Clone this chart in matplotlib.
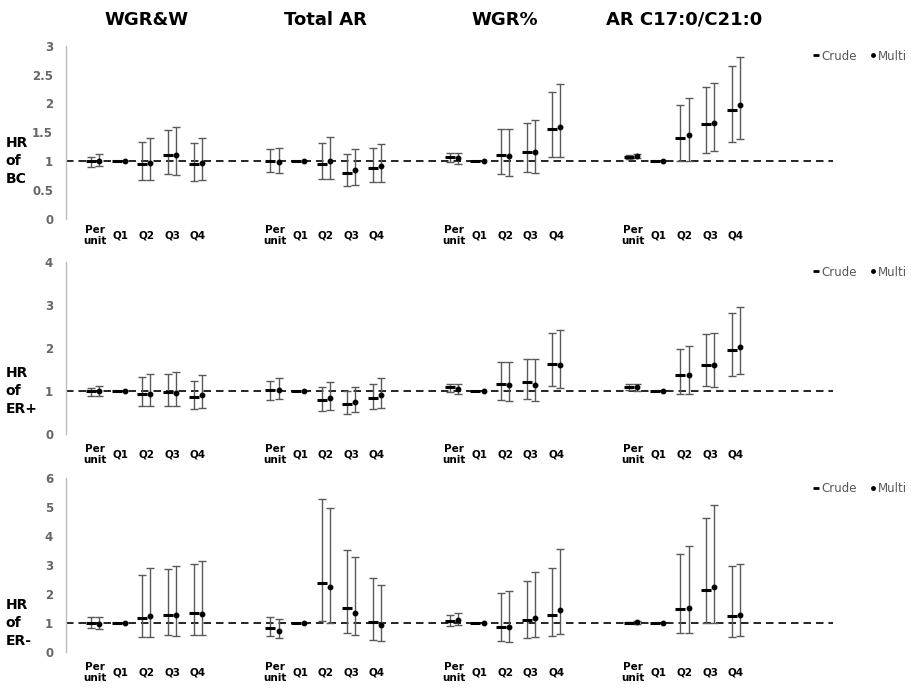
import numpy as np
import matplotlib
matplotlib.use('Agg')
import matplotlib.pyplot as plt
from matplotlib.lines import Line2D
from matplotlib.ticker import MultipleLocator, FormatStrFormatter

nan = np.nan

groups = ['WGR&W', 'Total AR', 'WGR%', 'AR C17:0/C21:0']
categories = ['Per\nunit', 'Q1', 'Q2', 'Q3', 'Q4']
outcomes = ['HR\nof\nBC', 'HR\nof\nER+', 'HR\nof\nER-']

# HR and 95% CI, 4 groups x 5 categories each (Q1 is the reference)
bc_crude = [1.00, 1.00, 0.96, 1.10, 0.96, 1.01, 1.00, 0.96, 0.80, 0.89,
            1.08, 1.00, 1.11, 1.16, 1.56, 1.08, 1.00, 1.41, 1.64, 1.89]
bc_crude_lo = [0.90, nan, 0.675, 0.78, 0.66, 0.81, nan, 0.69, 0.57, 0.64,
               0.99, nan, 0.77, 0.81, 1.08, 1.04, nan, 1.00, 1.15, 1.33]
bc_crude_hi = [1.08, nan, 1.34, 1.54, 1.32, 1.21, nan, 1.32, 1.12, 1.23,
               1.14, nan, 1.56, 1.655, 2.19, 1.11, nan, 1.98, 2.29, 2.65]
bc_multi = [1.00, 1.00, 0.97, 1.11, 0.97, 0.98, 1.00, 1.00, 0.85, 0.92,
            1.06, 1.00, 1.09, 1.16, 1.59, 1.09, 1.00, 1.45, 1.66, 1.97]
bc_multi_lo = [0.91, nan, 0.675, 0.755, 0.675, 0.79, nan, 0.70, 0.59, 0.64,
               0.96, nan, 0.75, 0.79, 1.08, 1.05, nan, 1.01, 1.17, 1.38]
bc_multi_hi = [1.12, nan, 1.40, 1.60, 1.41, 1.23, nan, 1.42, 1.22, 1.30,
               1.15, nan, 1.56, 1.71, 2.33, 1.13, nan, 2.09, 2.36, 2.80]

erp_crude = [0.99, 1.00, 0.94, 0.97, 0.87, 1.02, 1.00, 0.78, 0.69, 0.83,
             1.08, 1.00, 1.17, 1.20, 1.63, 1.09, 1.00, 1.37, 1.61, 1.96]
erp_crude_lo = [0.89, nan, 0.64, 0.66, 0.58, 0.78, nan, 0.53, 0.46, 0.58,
                0.97, nan, 0.79, 0.82, 1.11, 1.02, nan, 0.93, 1.11, 1.34]
erp_crude_hi = [1.07, nan, 1.32, 1.39, 1.24, 1.24, nan, 1.09, 0.99, 1.15,
                1.15, nan, 1.68, 1.74, 2.34, 1.15, nan, 1.98, 2.31, 2.80]
erp_multi = [0.99, 1.00, 0.93, 0.96, 0.91, 1.03, 1.00, 0.83, 0.75, 0.90,
             1.05, 1.00, 1.14, 1.14, 1.61, 1.08, 1.00, 1.37, 1.61, 2.02]
erp_multi_lo = [0.89, nan, 0.64, 0.66, 0.60, 0.81, nan, 0.56, 0.51, 0.60,
                0.94, nan, 0.76, 0.76, 1.07, 1.00, nan, 0.93, 1.09, 1.39]
erp_multi_hi = [1.12, nan, 1.39, 1.44, 1.37, 1.30, nan, 1.20, 1.10, 1.30,
                1.15, nan, 1.68, 1.74, 2.41, 1.15, nan, 2.05, 2.34, 2.94]

ern_crude = [1.02, 1.00, 1.18, 1.28, 1.36, 0.84, 1.00, 2.38, 1.53, 1.04,
             1.09, 1.00, 0.88, 1.11, 1.28, 1.01, 1.00, 1.50, 2.14, 1.26]
ern_crude_lo = [0.82, nan, 0.52, 0.60, 0.60, 0.56, nan, 1.07, 0.65, 0.41,
                0.92, nan, 0.38, 0.48, 0.55, 0.99, nan, 0.65, 0.99, 0.53]
ern_crude_hi = [1.20, nan, 2.65, 2.85, 3.05, 1.20, nan, 5.26, 3.53, 2.54,
                1.27, nan, 2.03, 2.44, 2.89, 1.03, nan, 3.37, 4.60, 2.96]
ern_multi = [0.97, 1.00, 1.26, 1.28, 1.32, 0.73, 1.00, 2.25, 1.35, 0.95,
             1.12, 1.00, 0.87, 1.19, 1.45, 1.03, 1.00, 1.52, 2.25, 1.29]
ern_multi_lo = [0.79, nan, 0.52, 0.56, 0.60, 0.48, nan, 1.00, 0.58, 0.38,
                0.95, nan, 0.34, 0.52, 0.62, 0.97, nan, 0.65, 1.00, 0.56]
ern_multi_hi = [1.20, nan, 2.91, 2.98, 3.13, 1.16, nan, 4.97, 3.26, 2.30,
                1.34, nan, 2.10, 2.75, 3.54, 1.09, nan, 3.64, 5.06, 3.05]

panels = [
    (bc_crude, bc_crude_lo, bc_crude_hi, bc_multi, bc_multi_lo, bc_multi_hi),
    (erp_crude, erp_crude_lo, erp_crude_hi, erp_multi, erp_multi_lo, erp_multi_hi),
    (ern_crude, ern_crude_lo, ern_crude_hi, ern_multi, ern_multi_lo, ern_multi_hi),
]
y_max = [3, 4, 6]
y_step = [0.5, 1, 1]

# axes rectangles in figure fractions
rects = [[0.0717, 0.6831, 0.8377, 0.2508],
         [0.0717, 0.3719, 0.8377, 0.2494],
         [0.0717, 0.0560, 0.8377, 0.2527]]
label_pad = [12, 14.5, 14.5]

# category positions: 5 per group, 2 empty slots between groups
pos = np.array([g * 7 + k for g in range(len(groups)) for k in range(len(categories))], dtype=float)
off = 0.16

fig = plt.figure(figsize=(9.16, 6.91), dpi=100)
err_color = '#595959'

for p, (c, clo, chi, m, mlo, mhi) in enumerate(panels):
    ax = fig.add_axes(rects[p])
    c, clo, chi = np.array(c), np.array(clo), np.array(chi)
    m, mlo, mhi = np.array(m), np.array(mlo), np.array(mhi)

    ax.axhline(1, color='black', lw=1.2, ls=(0, (4.5, 3)), zorder=1)

    ax.errorbar(pos - off, c, yerr=[c - clo, chi - c], fmt='none', ecolor=err_color,
                elinewidth=1, capsize=3, capthick=1, zorder=2)
    ax.errorbar(pos + off, m, yerr=[m - mlo, mhi - m], fmt='none', ecolor=err_color,
                elinewidth=1, capsize=3, capthick=1, zorder=2)
    ax.plot(pos - off, c, ls='none', marker='_', ms=6.5, mew=2.2, color='black', zorder=3)
    ax.plot(pos + off, m, ls='none', marker='o', ms=3.2, color='black', zorder=3)

    ax.set_xlim(-1.15, 28.8)
    ax.set_ylim(0, y_max[p])
    ax.yaxis.set_major_locator(MultipleLocator(y_step[p]))
    ax.yaxis.set_major_formatter(FormatStrFormatter('%g'))
    ax.set_xticks(pos)
    ax.set_xticklabels(categories * len(groups))
    ax.tick_params(axis='x', length=0, pad=label_pad[p], labelsize=7.5)
    ax.tick_params(axis='y', length=0, pad=9, labelsize=8.5, labelcolor='#666666')
    for lbl in ax.get_xticklabels():
        lbl.set_fontweight('bold')
        lbl.set_va('center')
        lbl.set_linespacing(1.15)
    for lbl in ax.get_yticklabels():
        lbl.set_fontweight('bold')

    for s in ['top', 'right', 'bottom']:
        ax.spines[s].set_visible(False)
    ax.spines['left'].set_color('#BFBFBF')
    ax.spines['left'].set_linewidth(1)

    ax.text(-0.078, 1, outcomes[p], transform=ax.get_yaxis_transform(), ha='left', va='center',
            fontsize=10, fontweight='bold', linespacing=1.35)

    handles = [Line2D([], [], ls='none', marker='_', ms=4, mew=2, color='black'),
               Line2D([], [], ls='none', marker='o', ms=2.5, color='black')]
    ax.legend(handles, ['Crude', 'Multi'], loc='center right', bbox_to_anchor=(1.0965, 0.94),
              ncol=2, frameon=False, fontsize=8.5, handlelength=0.5, handletextpad=0.2,
              columnspacing=1.1, labelcolor='#595959', borderpad=0, borderaxespad=0)

    if p == 0:
        for g, name in enumerate(groups):
            ax.text(g * 7 + 2, 1.15, name, transform=ax.get_xaxis_transform(), ha='center', va='center',
                    fontsize=13, fontweight='bold')

fig.savefig('out.png', dpi=100)
